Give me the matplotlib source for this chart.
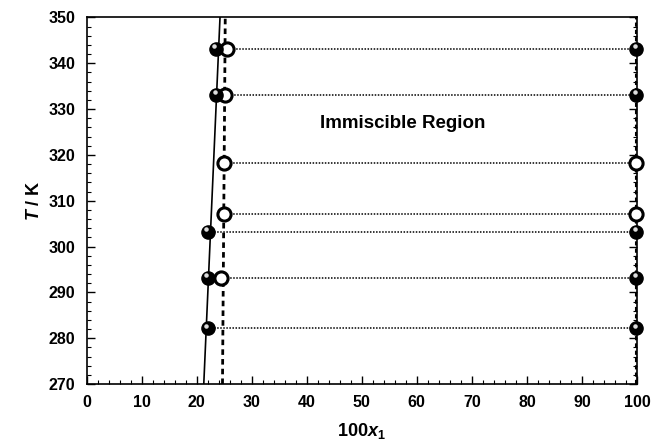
import matplotlib
matplotlib.use('Agg')
import matplotlib.pyplot as plt
from matplotlib.ticker import MultipleLocator

plt.rcParams['font.family'] = ['Liberation Sans', 'DejaVu Sans']
plt.rcParams['font.weight'] = 'bold'
plt.rcParams['mathtext.fontset'] = 'custom'
plt.rcParams['mathtext.rm'] = 'Liberation Sans:bold'
plt.rcParams['mathtext.it'] = 'Liberation Sans:italic:bold'
plt.rcParams['mathtext.bf'] = 'Liberation Sans:bold'

# temperatures of the tie lines (K)
T_tie = [343.15, 333.15, 318.15, 307.15, 303.15, 293.15, 282.15]
# left end of each tie line (100 x1)
x_left = [25.5, 25.2, 24.9, 24.9, 22.0, 24.4, 22.0]
# right (x1 ~ 1) phase composition
x_right = [99.9, 99.9, 99.9, 99.9, 99.9, 99.9, 99.9]

# filled symbols on the left branch
T_fill = [343.15, 333.15, 303.15, 293.15, 282.15]
x_fill = [23.5, 23.6, 22.0, 22.1, 22.0]
# open symbols on the left branch
T_open = [343.15, 333.15, 318.15, 307.15, 293.15]
x_open = [25.5, 25.2, 24.9, 24.9, 24.4]
# right branch symbols
T_rfill = [343.15, 333.15, 303.15, 293.15, 282.15]
T_ropen = [318.15, 307.15]

# boundary lines
solid_x = [21.3, 24.25]
solid_T = [270, 350]
dash_x = [24.7, 25.2]
dash_T = [270, 350]
rdash_x = [99.8, 99.8]
rdash_T = [270, 350]

fig = plt.figure(figsize=(6.53, 4.45), dpi=100)
ax = fig.add_axes([0.1325, 0.137, 0.843, 0.824])

for T, xl, xr in zip(T_tie, x_left, x_right):
    ax.plot([xl, xr], [T, T], color='black', linestyle=(0, (1, 1)), linewidth=1.1, zorder=2)

ax.plot(solid_x, solid_T, color='black', linewidth=1.2, zorder=3)
ax.plot(dash_x, dash_T, color='black', linestyle=(0, (2, 1.5)), linewidth=2.0, zorder=3)
ax.plot(rdash_x, rdash_T, color='black', linestyle=(0, (2, 1.5)), linewidth=1.5, zorder=3)

ms_big = 90
ax.scatter(x_open, T_open, s=ms_big, facecolor='white', edgecolor='black', linewidth=2.2, zorder=4)
ax.scatter(x_fill, T_fill, s=ms_big, facecolor='black', edgecolor='black', zorder=5)
ax.scatter([x - 0.35 for x in x_fill], [T + 0.6 for T in T_fill], s=5, color='#dddddd', zorder=6)
ax.scatter([99.9] * len(T_ropen), T_ropen, s=ms_big, facecolor='white', edgecolor='black',
           linewidth=2.2, zorder=4, clip_on=False)
ax.scatter([99.9] * len(T_rfill), T_rfill, s=ms_big, facecolor='black', edgecolor='black',
           zorder=5, clip_on=False)
ax.scatter([99.55] * len(T_rfill), [T + 0.6 for T in T_rfill], s=5, color='#dddddd', zorder=6,
           clip_on=False)

ax.text(57.5, 326.8, 'Immiscible Region', fontsize=13.5, fontweight='bold', ha='center', va='center')

ax.set_xlim(0, 100)
ax.set_ylim(270, 350)
ax.xaxis.set_major_locator(MultipleLocator(10))
ax.xaxis.set_minor_locator(MultipleLocator(2))
ax.yaxis.set_major_locator(MultipleLocator(10))
ax.yaxis.set_minor_locator(MultipleLocator(2))
ax.tick_params(which='both', direction='in', right=True, top=False, labelsize=11.5, pad=8)
ax.tick_params(which='major', length=6, width=1)
ax.tick_params(which='minor', length=3, width=0.8)
for lbl in ax.get_xticklabels() + ax.get_yticklabels():
    lbl.set_fontweight('bold')
for s in ax.spines.values():
    s.set_linewidth(1.2)

ax.set_xlabel(r'100$x_1$', fontsize=13, fontweight='bold', labelpad=8)
ax.set_ylabel(r'$T$ / K', fontsize=13, fontweight='bold', labelpad=4)

fig.savefig('out.png', dpi=100)
